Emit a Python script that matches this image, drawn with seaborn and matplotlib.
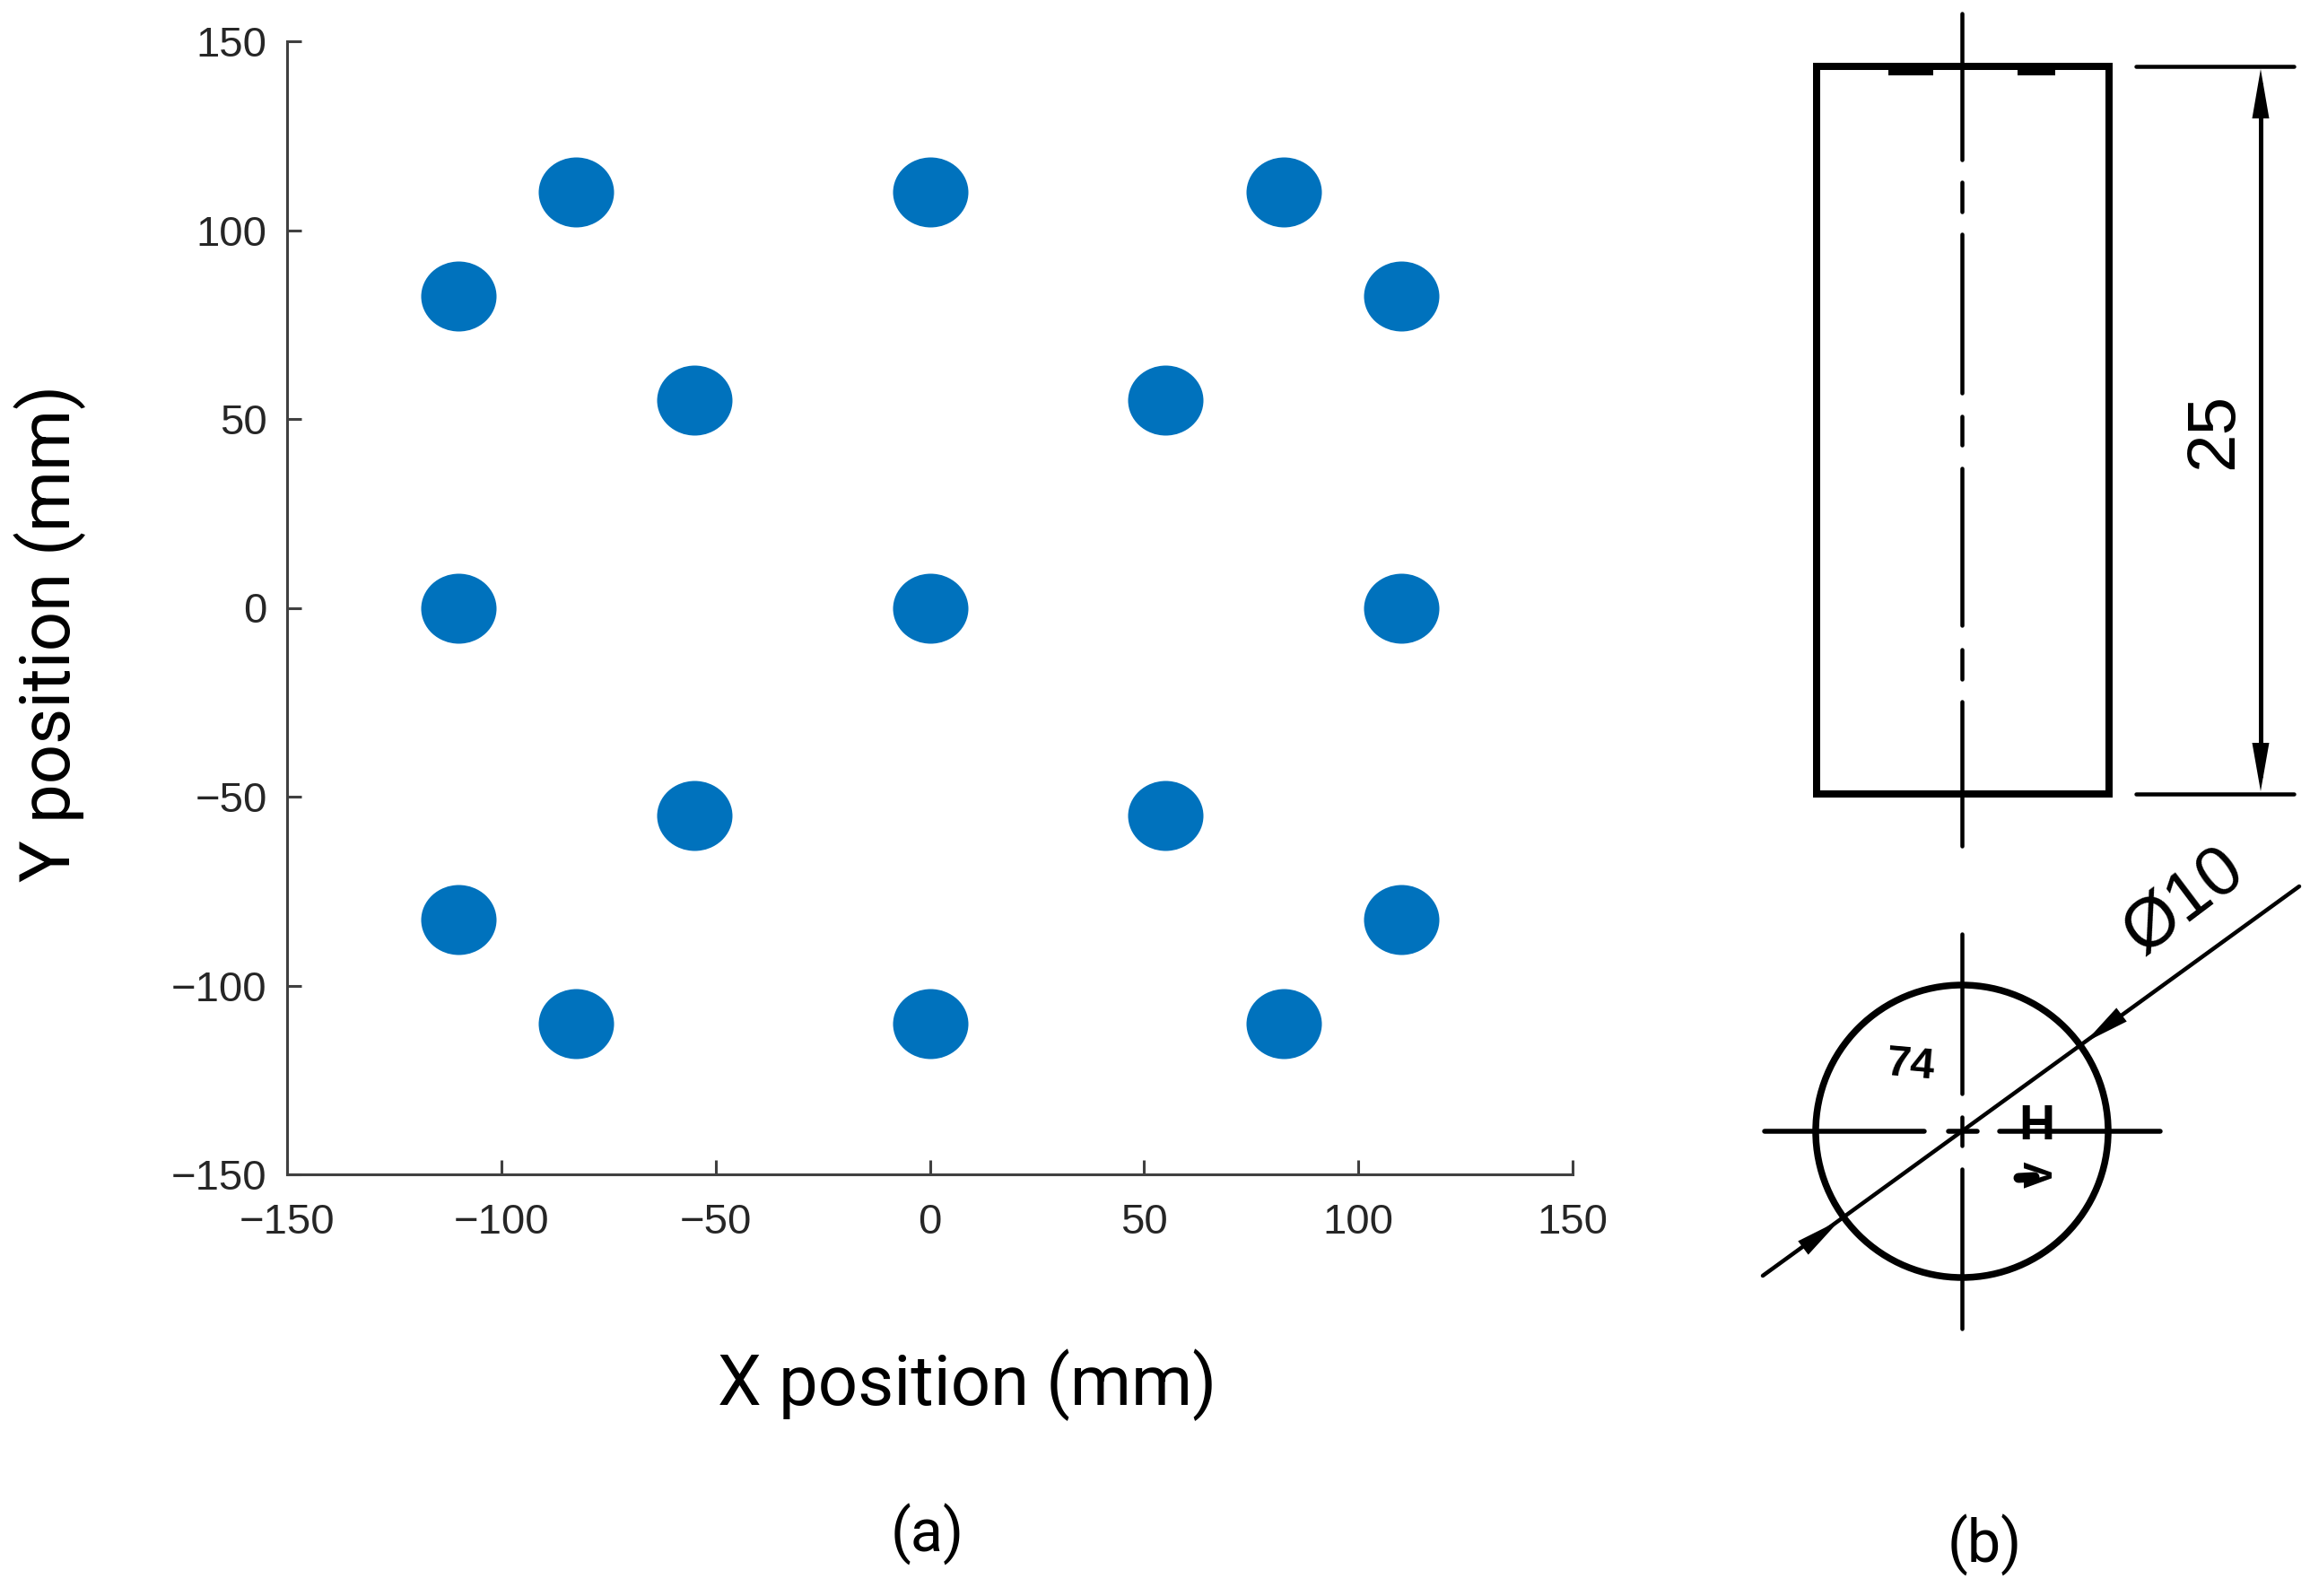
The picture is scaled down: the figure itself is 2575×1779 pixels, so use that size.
import matplotlib
matplotlib.use('Agg')
import matplotlib.pyplot as plt
import numpy as np
import pandas as pd
import seaborn as sns
from matplotlib.markers import MarkerStyle
from matplotlib.path import Path
from matplotlib.patches import Circle, Polygon
from matplotlib.transforms import Affine2D

# sensor positions in mm
x_pos = [-82.5, 0, 82.5, -110, 110, -55, 55, -110, 0, 110, -55, 55, -110, 110, -82.5, 0, 82.5]
y_pos = [110, 110, 110, 82.5, 82.5, 55, 55, 0, 0, 0, -55, -55, -82.5, -82.5, -110, -110, -110]
ticks = [-150, -100, -50, 0, 50, 100, 150]

# drawing (b), in figure pixels
rect_x = [2025, 2351]
rect_y = [74, 885]
axis_dashes = [(15, 178), (203, 236), (261, 438), (464, 496), (522, 697), (724, 757), (782, 943)]
top_marks = [(2105, 2155), (2249, 2291)]
circle_c = (2187, 1261)
circle_r = 163
h_dashes = [(1967, 2145), (2172, 2204), (2229, 2408)]
v_dashes = [(1041, 1219), (1245, 1277), (1303, 1481)]
diag_line = [(1965, 1422), (2563, 988)]

BLUE = '#0072BD'
W, H = 2575, 1779
PX = 0.72  # points per pixel at dpi 100

sns.set_theme(style='white')
plt.rcParams['font.family'] = ['Liberation Sans', 'DejaVu Sans']

fig = plt.figure(figsize=(W / 100, H / 100), dpi=100, facecolor='white')
ax = fig.add_axes([320 / W, 1 - 1309 / H, 1433 / W, 1263 / H])

df = pd.DataFrame({'x': x_pos, 'y': y_pos})
# dots are a bit wider than tall in the source
circ = Path.unit_circle().transformed(Affine2D().scale(1.0, 78 / 84))
sns.scatterplot(data=df, x='x', y='y', ax=ax, color=BLUE, marker=MarkerStyle(circ),
                s=(84 * PX) ** 2, linewidth=0, legend=False)

ax.set_xlim(-150, 150)
ax.set_ylim(-150, 150)
ax.set_xticks(ticks)
ax.set_yticks(ticks)
ax.set_xlabel('')
ax.set_ylabel('')
sns.despine(ax=ax)
for s in ['left', 'bottom']:
    ax.spines[s].set_color('#404040')
    ax.spines[s].set_linewidth(2.2)
ax.tick_params(axis='both', direction='in', length=11.5, width=2.2, color='#404040',
               labelcolor='#262626', labelsize=34, left=True, bottom=True)
ax.tick_params(axis='x', pad=23)
ax.tick_params(axis='y', pad=16)
ax.patch.set_alpha(0)

# overlay in pixel coordinates for labels and drawing
ov = fig.add_axes([0, 0, 1, 1])
ov.set_xlim(0, W)
ov.set_ylim(H, 0)
ov.axis('off')
ov.patch.set_alpha(0)


def line(xs, ys, w=4.5):
    ov.plot(xs, ys, color='black', lw=w * PX, solid_capstyle='round')


def arrowhead(tip, base, width=19):
    tip, base = np.array(tip, float), np.array(base, float)
    d = base - tip
    n = np.array([-d[1], d[0]]) / np.hypot(*d) * width / 2
    ov.add_patch(Polygon([tip, base + n, base - n], closed=True, color='black', lw=0, zorder=4))


for lab, xy, rot in [('X position (mm)', (1078, 1544), 0), ('Y position (mm)', (56, 706), 90),
                     ('(a)', (1034, 1710), 0), ('(b)', (2212, 1722), 0)]:
    ov.text(*xy, lab, family=['Roboto', 'DejaVu Sans'], color='black', ha='center', va='center',
            rotation=rot, fontsize=48 if lab[0] == '(' else 56)

# side view
ov.plot([rect_x[0], rect_x[0], rect_x[1], rect_x[1], rect_x[0], rect_x[0]],
        [rect_y[0], rect_y[1], rect_y[1], rect_y[0], rect_y[0], rect_y[1]],
        color='black', lw=8 * PX, solid_joinstyle='miter')
for a, b in axis_dashes:
    line([circle_c[0], circle_c[0]], [a, b])
for a, b in top_marks:
    ov.plot([a, b], [79, 79], color='black', lw=10 * PX, solid_capstyle='butt')
line([2381, 2557], [rect_y[0], rect_y[0]])
line([2381, 2557], [rect_y[1], rect_y[1]])
line([2520, 2520], [rect_y[0] + 20, rect_y[1] - 20], w=5)
arrowhead((2520, rect_y[0] + 3), (2520, 132))
arrowhead((2520, rect_y[1] - 3), (2520, 828))
ov.text(2469, 480, '25', rotation=90, fontsize=55, color='black', ha='center', va='center')

# end view
ov.add_patch(Circle(circle_c, circle_r, fill=False, ec='black', lw=7.5 * PX))
for a, b in h_dashes:
    line([a, b], [circle_c[1], circle_c[1]], w=5.5)
for a, b in v_dashes:
    line([circle_c[0], circle_c[0]], [a, b])
line(*zip(*diag_line))
arrowhead((2324, 1162), (2365, 1131))
arrowhead((2051, 1360), (2010, 1391))
ov.text(2434, 1005, 'Ø10', rotation=37, fontsize=56, color='black', ha='center', va='center')
ov.text(2130, 1188, '74', rotation=-5, fontsize=35, fontweight='bold', color='black', ha='center', va='center')
ov.text(2270, 1256, 'H', fontsize=40, fontweight='bold', color='black', ha='center', va='center')
ov.text(2276, 1309, 'V', rotation=90, fontsize=32, fontweight='bold', color='black', ha='center', va='center')
line([2250, 2268], [1313, 1312], w=11)

fig.savefig('out.png', dpi=100)
